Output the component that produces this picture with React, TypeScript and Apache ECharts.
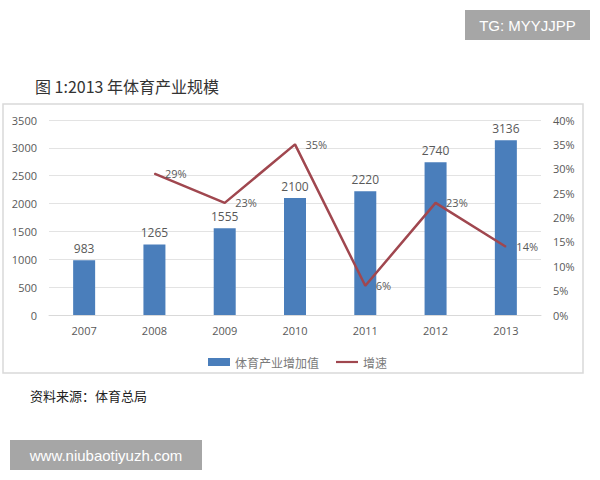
import React, { useEffect, useRef } from "react";
import * as echarts from "echarts";

const categories = ["2007", "2008", "2009", "2010", "2011", "2012", "2013"];
const valueAdded = [983, 1265, 1555, 2100, 2220, 2740, 3136];
const growth: (number | null)[] = [null, 29, 23, 35, 6, 23, 14];
const seriesNames = ["体育产业增加值", "增速"];
const titleText = "图 1:2013 年体育产业规模";
const sourceText = "资料来源：体育总局";
const watermarkTop = "TG: MYYJJPP";
const watermarkBottom = "www.niubaotiyuzh.com";

const CJK = '"Noto Sans CJK SC", "Noto Sans", sans-serif';
const NUM = '"Open Sans", "Noto Sans", sans-serif';

export default function App() {
  const ref = useRef<HTMLDivElement>(null);
  useEffect(() => {
    if (!ref.current) return;
    const chart = echarts.init(ref.current, undefined, { renderer: "svg" });
    chart.setOption({
      animation: false,
      backgroundColor: "#ffffff",
      grid: { left: 49, right: 59, top: 120, bottom: 165 },
      legend: {
        left: 203,
        top: 351,
        itemGap: 17,
        itemWidth: 22,
        itemHeight: 8,
        textStyle: { color: "#7a7a7a", fontSize: 12, fontFamily: CJK },
        data: [
          { name: seriesNames[0], icon: "rect" },
          { name: seriesNames[1], icon: "path://M0,0 H30 V3 H0 Z" },
        ],
      },
      xAxis: {
        type: "category",
        data: categories,
        axisTick: { show: false },
        axisLine: { show: true, lineStyle: { color: "#d9d9d9" } },
        axisLabel: { color: "#595959", fontSize: 11, fontFamily: NUM, margin: 10 },
      },
      yAxis: [
        {
          type: "value",
          min: 0,
          max: 3500,
          interval: 500,
          axisLine: { show: false },
          axisTick: { show: false },
          splitLine: { lineStyle: { color: "#e3e3e3" } },
          axisLabel: {
            color: "#595959",
            fontSize: 11,
            fontFamily: NUM,
            margin: 12,
            formatter: (v: number) => String(v),
          },
        },
        {
          type: "value",
          min: 0,
          max: 40,
          interval: 5,
          axisLine: { show: false },
          axisTick: { show: false },
          splitLine: { show: false },
          axisLabel: { color: "#595959", fontSize: 11, fontFamily: NUM, margin: 12, formatter: "{value}%" },
        },
      ],
      series: [
        {
          name: seriesNames[0],
          type: "bar",
          data: valueAdded,
          barWidth: 22,
          itemStyle: { color: "#4a7ebb" },
          label: { show: true, position: "top", color: "#595959", fontSize: 12, fontFamily: NUM, distance: 6 },
        },
        {
          name: seriesNames[1],
          type: "line",
          yAxisIndex: 1,
          data: growth,
          symbol: "circle",
          symbolSize: 1,
          itemStyle: { color: "#a0474f" },
          lineStyle: { color: "#a0474f", width: 2.5 },
          z: 5,
          label: {
            show: true,
            position: "right",
            distance: 10,
            color: "#595959",
            fontSize: 11,
            fontFamily: NUM,
            formatter: "{c}%",
          },
        },
      ],
      graphic: [
        {
          type: "rect",
          shape: { x: 3, y: 104, width: 580, height: 269 },
          style: { fill: "none", stroke: "#d9d9d9", lineWidth: 1.5 },
          silent: true,
          z: -1,
        },
        {
          type: "text",
          left: 35,
          top: 78,
          style: { text: titleText, fill: "#333333", font: `16px ${CJK}` },
        },
        {
          type: "text",
          left: 30,
          top: 389,
          style: { text: sourceText, fill: "#222222", font: `13px ${CJK}` },
        },
        {
          type: "rect",
          shape: { x: 465, y: 10, width: 125, height: 30 },
          style: { fill: "#a6a6a6" },
        },
        {
          type: "text",
          x: 527.5,
          y: 25,
          style: {
            text: watermarkTop,
            fill: "#ffffff",
            font: '15px "Liberation Sans", Arial, sans-serif',
            textAlign: "center",
            textVerticalAlign: "middle",
          },
        },
        {
          type: "rect",
          shape: { x: 10, y: 440, width: 192, height: 30 },
          style: { fill: "#a6a6a6" },
        },
        {
          type: "text",
          x: 106,
          y: 455,
          style: {
            text: watermarkBottom,
            fill: "#ffffff",
            font: '15px "Liberation Sans", Arial, sans-serif',
            textAlign: "center",
            textVerticalAlign: "middle",
          },
        },
      ],
    });
    return () => chart.dispose();
  }, []);
  return (
    <div
      ref={ref}
      style={{ position: "fixed", left: 0, top: 0, width: 600, height: 480 }}
    />
  );
}
